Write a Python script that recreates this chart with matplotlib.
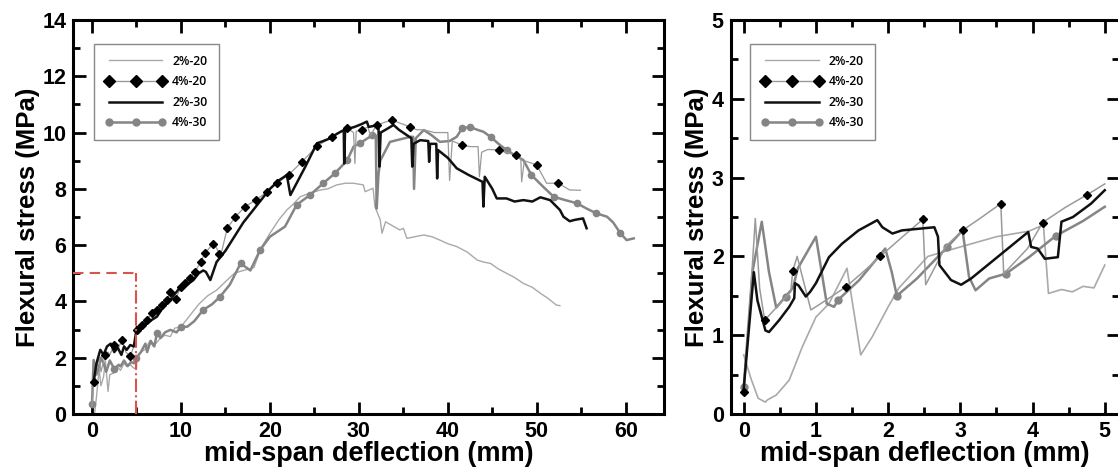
import matplotlib
matplotlib.use("Agg")
import matplotlib.pyplot as plt
from matplotlib.lines import Line2D
from matplotlib.ticker import MultipleLocator

plt.rcParams['font.family'] = ['Liberation Sans', 'DejaVu Sans']

# ---------------- full curves (left panel) ----------------
x_2_20 = [0.3, 0.5, 0.8, 1.0, 1.3, 1.5, 1.8, 2.0, 2.4, 2.8, 3.2, 3.6, 3.9, 4.3, 4.7, 5.0, 5.05, 5.5, 6.0, 6.5,
          6.9, 7.3, 7.7, 8.2, 8.8, 9.3, 10.0, 11.0, 12.0, 13.0, 14.0, 15.0, 16.0, 17.0, 18.2, 19.0, 20.0, 21.0,
          21.9, 22.6, 23.4, 24.5, 25.7, 26.5, 27.5, 28.5, 29.4, 30.5, 30.7, 31.6, 31.8, 32.4, 32.6, 33.0, 34.6,
          35.0, 35.4, 36.3, 37.3, 38.2, 39.1, 40.0, 41.0, 42.2, 43.3, 44.0, 44.8, 45.7, 46.6, 47.5, 48.5, 49.5,
          50.4, 51.3, 52.2, 52.6]
y_2_20 = [0.05, 0.6, 1.6, 1.0, 1.33, 1.9, 0.8, 1.4, 1.45, 1.7, 1.55, 1.8, 1.69, 1.75, 1.63, 1.6, 2.04, 2.2, 2.3,
          2.6, 2.4, 2.55, 2.7, 2.8, 2.75, 3.05, 3.1, 3.5, 3.9, 4.2, 4.4, 4.7, 5.0, 5.1, 5.2, 5.9, 6.42, 6.9, 7.25,
          7.45, 7.72, 7.85, 7.96, 8.0, 8.14, 8.2, 8.2, 8.14, 7.9, 8.02, 7.37, 6.9, 6.42, 6.83, 6.54, 6.6, 6.24,
          6.3, 6.36, 6.3, 6.18, 6.05, 5.95, 5.75, 5.47, 5.4, 5.35, 5.15, 5.0, 4.85, 4.64, 4.5, 4.29, 4.1, 3.87,
          3.85]

x_4_20 = [0.0, 0.2, 0.5, 0.8, 1.0, 1.5, 1.8, 2.0, 2.5, 2.9, 3.4, 3.8, 4.3, 4.7, 5.05, 5.6, 6.2, 6.7, 7.3, 7.9,
          8.4, 8.8, 9.4, 10.0, 10.5, 11.0, 11.6, 12.2, 12.7, 13.6, 14.0, 14.3, 14.6, 15.2, 16.1, 17.2, 18.4, 19.7,
          20.8, 22.1, 23.6, 25.3, 27.0, 28.7, 29.4, 29.55, 29.7, 30.3, 31.0, 31.3, 32.0, 33.7, 34.5, 35.8, 36.5,
          37.3, 38.5, 40.0, 40.2, 40.5, 41.6, 42.5, 43.4, 43.55, 43.8, 44.5, 45.7, 46.5, 47.7, 48.2, 48.3, 48.6,
          50.0, 51.1, 52.4, 53.7, 54.9]
y_4_20 = [0.3, 1.15, 1.6, 2.0, 1.5, 2.1, 2.2, 2.1, 2.45, 2.3, 2.64, 2.2, 2.05, 2.4, 2.99, 3.16, 3.34, 3.58, 3.7,
          3.88, 4.06, 4.35, 4.1, 4.5, 4.64, 4.82, 5.06, 5.4, 5.71, 6.05, 5.9, 5.7, 5.8, 6.6, 7.0, 7.37, 7.6, 7.9,
          8.2, 8.5, 8.96, 9.52, 9.85, 10.15, 10.0, 8.9, 10.05, 10.09, 10.2, 9.9, 10.27, 10.45, 10.35, 10.2, 10.1,
          10.1, 10.0, 10.0, 8.3, 9.7, 9.56, 9.5, 9.5, 8.43, 9.3, 9.4, 9.38, 9.3, 9.2, 9.1, 8.25, 9.0, 8.85, 8.2,
          8.2, 7.96, 7.95]
mx_4_20 = [0.2, 1.5, 2.5, 3.4, 4.3, 5.05, 5.6, 6.2, 6.7, 7.3, 7.9, 8.4, 8.8, 9.4, 10.0, 10.5, 11.0, 11.6, 12.2,
           12.7, 13.6, 14.3, 15.2, 16.1, 17.2, 18.4, 19.7, 20.8, 22.1, 23.6, 25.3, 27.0, 28.7, 30.3, 32.0, 33.7,
           35.8, 41.6, 45.7, 47.7, 50.0, 52.4]
my_4_20 = [1.15, 2.1, 2.45, 2.64, 2.05, 2.99, 3.16, 3.34, 3.58, 3.7, 3.88, 4.06, 4.35, 4.1, 4.5, 4.64, 4.82,
           5.06, 5.4, 5.71, 6.05, 5.7, 6.6, 7.0, 7.37, 7.6, 7.9, 8.2, 8.5, 8.96, 9.52, 9.85, 10.15, 10.09, 10.27,
           10.45, 10.2, 9.56, 9.38, 9.2, 8.85, 8.2]

x_2_30 = [0.18, 0.5, 0.93, 1.3, 1.68, 2.1, 2.5, 2.9, 3.3, 3.6, 3.9, 4.3, 4.7, 5.05, 5.5, 6.0, 6.5, 7.3, 8.0, 8.8,
          9.9, 10.5, 11.4, 12.0, 12.5, 12.8, 13.3, 14.0, 15.0, 16.0, 17.0, 18.0, 19.0, 20.0, 21.0, 21.9, 22.3,
          23.0, 24.0, 25.1, 25.3, 26.0, 26.8, 27.5, 28.3, 28.35, 28.45, 29.5, 30.3, 30.9, 31.1, 32.2, 32.3, 32.45,
          33.0, 33.9, 34.5, 35.9, 36.0, 36.15, 36.9, 37.8, 37.9, 38.0, 38.7, 38.8, 38.9, 40.0, 41.0, 42.3, 43.9,
          44.0, 44.15, 45.0, 45.5, 46.6, 47.5, 48.5, 49.5, 50.4, 51.5, 52.6, 53.0, 53.7, 54.3, 55.2, 55.6]
y_2_30 = [1.15, 1.8, 2.28, 2.1, 2.4, 2.5, 2.2, 2.35, 2.1, 2.4, 2.28, 2.45, 2.4, 3.1, 3.0, 3.2, 3.3, 3.46, 3.8,
          4.06, 4.5, 4.55, 4.76, 5.0, 5.1, 5.05, 4.76, 5.4, 5.8, 6.3, 6.8, 7.2, 7.6, 8.0, 8.3, 8.49, 7.78, 8.2,
          8.8, 9.5, 9.62, 9.7, 9.8, 9.95, 10.09, 8.9, 10.1, 10.2, 10.3, 10.39, 10.2, 10.27, 8.79, 10.0, 10.1,
          10.27, 10.1, 9.8, 8.79, 9.6, 9.73, 9.7, 8.96, 9.6, 9.6, 8.37, 9.38, 9.1, 8.73, 8.5, 8.25, 7.37, 8.43,
          8.0, 7.66, 7.66, 7.55, 7.6, 7.55, 7.7, 7.6, 7.25, 7.01, 6.85, 6.9, 6.95, 6.6]

x_4_30 = [0.0, 0.18, 0.5, 0.8, 1.0, 1.3, 1.6, 2.0, 2.5, 3.0, 3.2, 3.6, 4.0, 4.4, 4.7, 5.0, 5.5, 6.0, 6.2, 6.6,
          7.0, 7.3, 7.7, 8.2, 8.8, 9.5, 10.0, 10.7, 11.5, 12.5, 13.5, 14.4, 15.5, 16.7, 17.8, 18.9, 20.0, 21.7,
          23.0, 24.5, 26.0, 27.3, 28.7, 29.4, 30.1, 31.5, 31.9, 32.0, 32.2, 32.4, 33.5, 35.8, 36.1, 36.2, 36.4,
          37.3, 38.2, 39.1, 40.2, 41.0, 41.6, 42.5, 43.3, 44.0, 44.8, 45.7, 46.6, 47.5, 48.5, 49.4, 50.7, 51.9,
          53.2, 54.5, 55.6, 56.7, 57.9, 58.6, 59.4, 60.1, 60.9]
y_4_30 = [0.36, 1.92, 1.4, 1.7, 2.0, 1.8, 1.5, 1.9, 1.6, 1.75, 1.69, 1.9, 1.7, 1.85, 1.8, 2.0, 2.2, 2.5, 2.2,
          2.6, 2.4, 2.87, 2.7, 2.9, 2.99, 2.9, 3.1, 3.1, 3.3, 3.7, 3.9, 4.17, 4.6, 5.35, 5.1, 5.83, 6.3, 6.66,
          7.43, 7.78, 8.2, 8.55, 9.02, 9.5, 9.62, 9.9, 9.9, 7.3, 8.5, 9.0, 9.67, 9.85, 9.85, 8.0, 9.8, 10.09,
          9.9, 9.67, 9.7, 9.85, 10.15, 10.2, 10.1, 10.03, 9.85, 9.6, 9.38, 9.2, 9.02, 8.49, 8.08, 7.72, 7.6,
          7.49, 7.3, 7.13, 7.01, 6.8, 6.42, 6.18, 6.24]
mx_4_30 = [0.0, 2.5, 5.0, 7.3, 10.0, 12.5, 14.4, 16.7, 18.9, 23.0, 24.5, 26.0, 27.3, 28.7, 30.1, 31.5, 41.6,
           42.5, 44.8, 46.6, 49.4, 51.9, 54.5, 56.7, 59.4]
my_4_30 = [0.36, 1.6, 2.0, 2.87, 3.1, 3.7, 4.17, 5.35, 5.83, 7.43, 7.78, 8.2, 8.55, 9.02, 9.62, 9.9, 10.15,
           10.2, 9.85, 9.38, 8.49, 7.72, 7.49, 7.13, 6.42]

# ---------------- first 5 mm (right panel) ----------------
rx_2_20 = [0.0, 0.1, 0.2, 0.3, 0.33, 0.45, 0.63, 0.81, 1.0, 1.18, 1.43, 1.62, 1.78, 2.0, 2.15, 2.4, 2.55, 3.0,
           3.5, 3.95, 4.15, 4.22, 4.4, 4.55, 4.7, 4.85, 5.0]
ry_2_20 = [0.75, 0.45, 0.2, 0.15, 0.18, 0.24, 0.43, 0.85, 1.23, 1.4, 1.85, 0.75, 0.98, 1.36, 1.6, 1.85, 2.0,
           2.12, 2.25, 2.32, 2.4, 1.53, 1.58, 1.55, 1.62, 1.6, 1.89]

rx_4_20 = [0.0, 0.08, 0.16, 0.22, 0.29, 0.4, 0.55, 0.65, 0.68, 0.74, 0.93, 1.15, 1.41, 1.65, 1.89, 2.2, 2.48,
           2.52, 2.8, 3.03, 3.3, 3.56, 3.6, 3.93, 4.14, 4.45, 4.75, 5.0]
ry_4_20 = [0.28, 1.3, 2.48, 1.6, 1.19, 1.3, 1.45, 1.55, 1.82, 2.0, 1.32, 1.45, 1.61, 1.8, 2.0, 2.25, 2.47, 1.64,
           2.13, 2.33, 2.5, 2.67, 1.78, 2.1, 2.43, 2.62, 2.78, 2.92]
rmx_4_20 = [0.0, 0.29, 0.68, 1.41, 1.89, 2.48, 3.03, 3.56, 4.14, 4.75]
rmy_4_20 = [0.28, 1.19, 1.82, 1.61, 2.0, 2.47, 2.33, 2.67, 2.43, 2.78]

rx_2_30 = [0.0, 0.14, 0.19, 0.3, 0.35, 0.49, 0.63, 0.7, 0.71, 0.76, 0.86, 0.92, 1.0, 1.18, 1.36, 1.59, 1.85,
           1.92, 2.06, 2.19, 2.64, 2.69, 2.71, 2.87, 3.01, 3.15, 3.94, 3.98, 4.07, 4.17, 4.35, 4.4, 4.56, 4.81,
           5.0]
ry_2_30 = [0.32, 1.8, 1.44, 1.06, 1.04, 1.19, 1.36, 1.47, 1.66, 1.63, 1.49, 1.55, 1.66, 1.99, 2.16, 2.33, 2.46,
           2.37, 2.29, 2.33, 2.37, 2.25, 1.89, 1.7, 1.64, 1.72, 2.31, 2.12, 2.1, 1.97, 1.99, 2.44, 2.5, 2.67, 2.84]

rx_4_30 = [0.0, 0.12, 0.25, 0.35, 0.45, 0.58, 0.68, 0.75, 1.0, 1.15, 1.25, 1.31, 1.6, 1.96, 2.05, 2.12, 2.4,
           2.82, 3.03, 3.12, 3.21, 3.4, 3.63, 3.95, 4.32, 4.7, 5.0]
ry_4_30 = [0.34, 1.8, 2.44, 1.8, 1.35, 1.49, 1.6, 1.85, 2.25, 1.4, 1.36, 1.45, 1.7, 2.1, 1.8, 1.5, 1.72, 2.12,
           2.33, 1.74, 1.57, 1.72, 1.78, 1.99, 2.26, 2.45, 2.63]
rmx_4_30 = [0.0, 0.58, 1.31, 2.12, 2.82, 3.63, 4.32]
rmy_4_30 = [0.34, 1.49, 1.45, 1.5, 2.12, 1.78, 2.26]

labels = ['2%-20', '4%-20', '2%-30', '4%-30']
ZOOM_X, ZOOM_Y = 5, 5

C_2_20 = '#a9a9a9'
C_4_20 = '#9a9a9a'
C_2_30 = '#111111'
C_4_30 = '#858585'


def style_axes(ax, xmaj, xmin, ymaj, ymin):
    for s in ax.spines.values():
        s.set_linewidth(2.2)
    ax.xaxis.set_major_locator(MultipleLocator(xmaj))
    ax.xaxis.set_minor_locator(MultipleLocator(xmin))
    ax.yaxis.set_major_locator(MultipleLocator(ymaj))
    ax.yaxis.set_minor_locator(MultipleLocator(ymin))
    ax.tick_params(which='both', direction='in', top=True, right=True, width=2)
    ax.tick_params(which='major', length=9, labelsize=15.5, pad=5)
    ax.tick_params(which='minor', length=5)
    for lab in ax.get_xticklabels() + ax.get_yticklabels():
        lab.set_fontweight('bold')
    ax.set_xlabel('mid-span deflection (mm)', fontsize=19.5, fontweight='bold', labelpad=-1)
    ax.set_ylabel('Flexural stress (MPa)', fontsize=18.5, fontweight='bold', labelpad=2)


def add_legend(ax, loc_xy):
    handles = [
        Line2D([], [], color=C_2_20, lw=1.0),
        Line2D([], [], color=C_4_20, lw=1.0, marker='D', markersize=6, mfc='black', mec='black'),
        Line2D([], [], color=C_2_30, lw=1.8),
        Line2D([], [], color=C_4_30, lw=1.8, marker='o', markersize=5, mfc=C_4_30, mec=C_4_30),
    ]
    leg = ax.legend(handles, labels, loc='upper left', bbox_to_anchor=loc_xy, numpoints=3,
                    handlelength=5.0, labelspacing=0.62, borderpad=0.9, handletextpad=0.5,
                    borderaxespad=0, fancybox=False, framealpha=1, edgecolor='#888888',
                    prop={'family': 'Open Sans', 'weight': 'semibold', 'size': 8.8})
    leg.get_frame().set_linewidth(1.0)


fig = plt.figure(figsize=(11.18, 4.74), dpi=100)
ax1 = fig.add_axes([0.0656, 0.1266, 0.5283, 0.8312])
ax2 = fig.add_axes([0.6536, 0.1266, 0.3475, 0.8312])

# left: whole test
ax1.plot(x_2_20, y_2_20, color=C_2_20, lw=1.0, zorder=2)
ax1.plot(x_4_30, y_4_30, color=C_4_30, lw=1.8, zorder=3)
ax1.plot(mx_4_30, my_4_30, 'o', color=C_4_30, markersize=4.5, zorder=3)
ax1.plot(x_4_20, y_4_20, color=C_4_20, lw=0.9, zorder=4)
ax1.plot(mx_4_20, my_4_20, 'D', color='black', markersize=4.5, zorder=5)
ax1.plot(x_2_30, y_2_30, color=C_2_30, lw=1.8, zorder=4)
ax1.hlines(ZOOM_Y, -2.1, ZOOM_X, colors='#d9534f', linestyles=(0, (5, 3)), lw=1.5, zorder=6)
ax1.vlines(ZOOM_X, 0, ZOOM_Y, colors='#d9534f', linestyles='-.', lw=1.5, zorder=6)
ax1.set_xlim(-2.1, 64.3)
ax1.set_ylim(0, 14)
style_axes(ax1, 10, 5, 2, 1)
add_legend(ax1, (0.035, 0.94))

# right: first 5 mm
ax2.plot(rx_2_20, ry_2_20, color=C_2_20, lw=1.2, zorder=2)
ax2.plot(rx_4_30, ry_4_30, color=C_4_30, lw=1.8, zorder=3)
ax2.plot(rmx_4_30, rmy_4_30, 'o', color=C_4_30, markersize=5, zorder=3)
ax2.plot(rx_4_20, ry_4_20, color=C_4_20, lw=1.1, zorder=4)
ax2.plot(rmx_4_20, rmy_4_20, 'D', color='black', markersize=4.5, zorder=5)
ax2.plot(rx_2_30, ry_2_30, color=C_2_30, lw=1.8, zorder=4)
ax2.set_xlim(-0.18, 5.2)
ax2.set_ylim(0, 5)
style_axes(ax2, 1, 0.5, 1, 0.5)
add_legend(ax2, (0.05, 0.94))

fig.savefig('out.png', dpi=100)
